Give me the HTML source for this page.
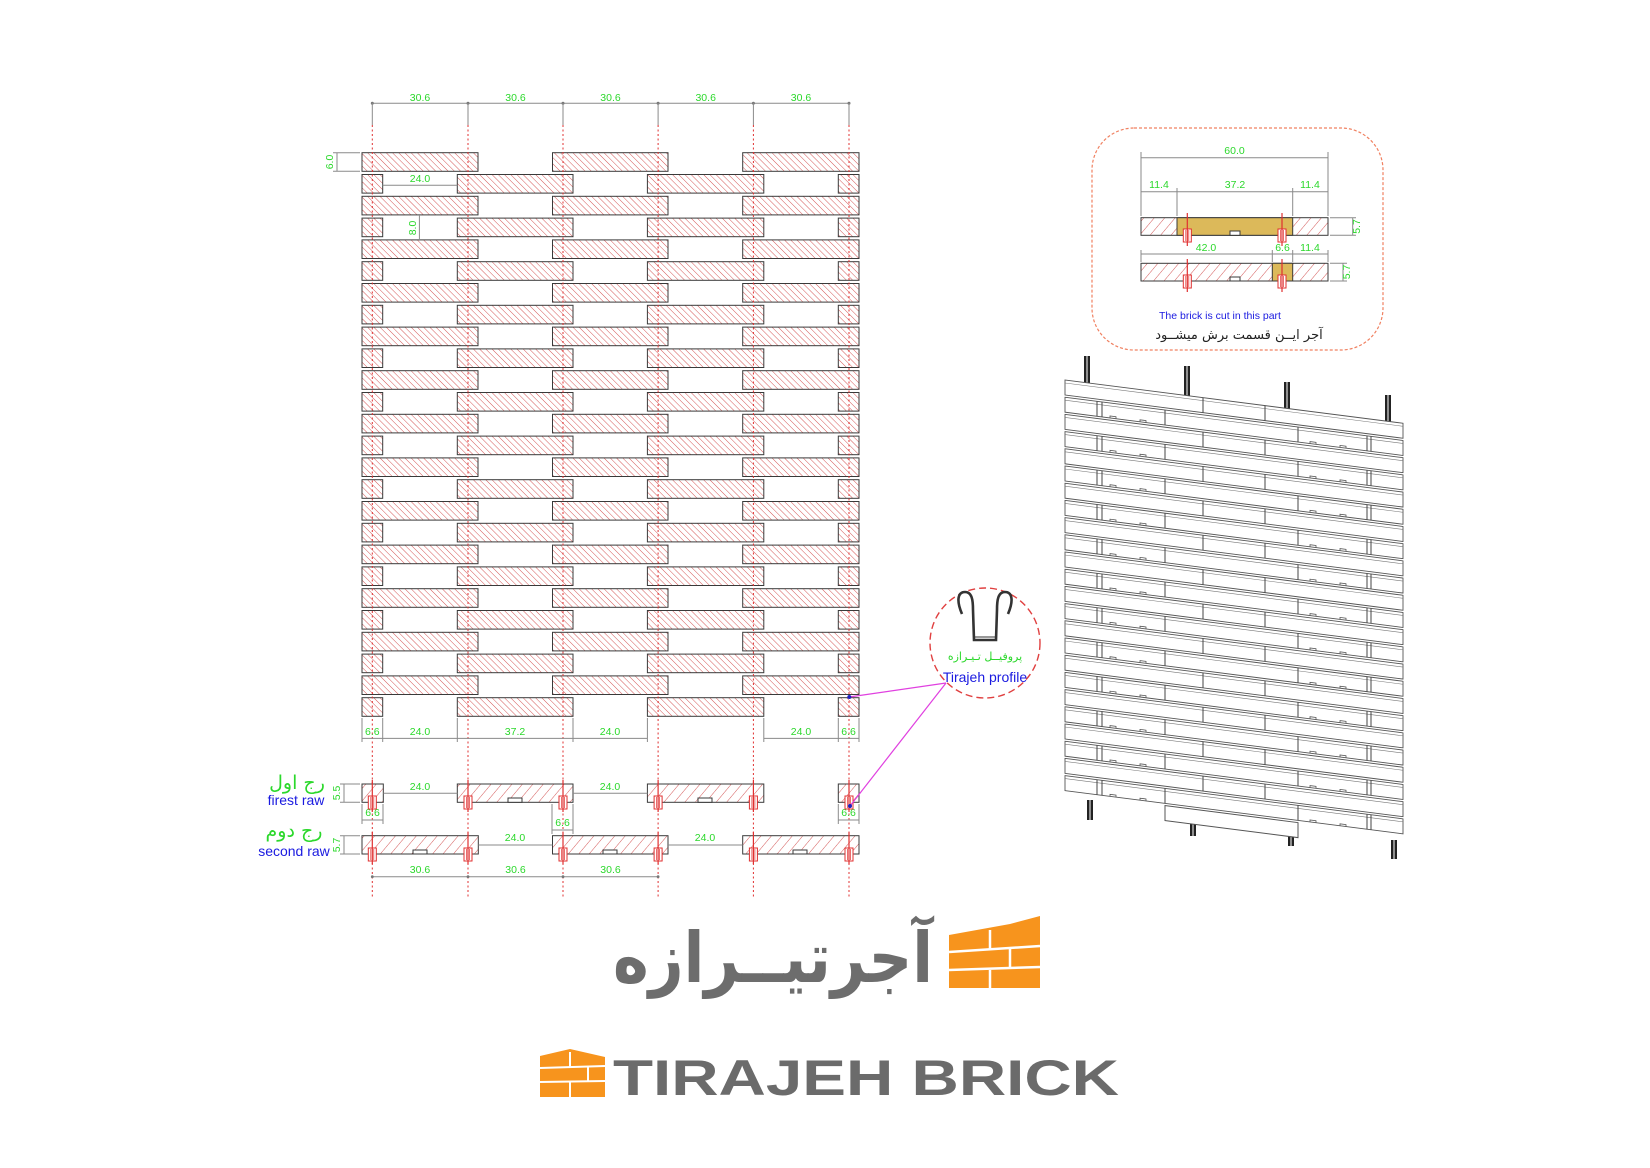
<!DOCTYPE html>
<html><head><meta charset="utf-8"><style>
html,body{margin:0;padding:0;background:#fff;}
svg{display:block;}
.d{font-family:"Liberation Sans",sans-serif;font-size:10.5px;fill:#2bd82b;text-anchor:middle;}
.dl{stroke:#8a8a8a;stroke-width:1;fill:none;}
.rd{stroke:#e03030;stroke-width:1;stroke-dasharray:2,2.5;fill:none;}
.br{stroke:#3a3a3a;stroke-width:1;}
</style></head><body>
<svg width="1650" height="1168" viewBox="0 0 1650 1168" xmlns="http://www.w3.org/2000/svg">
<defs>
<pattern id="h1" width="4.4" height="4.4" patternUnits="userSpaceOnUse" patternTransform="rotate(-45)"><rect width="4.4" height="4.4" fill="#fff"/><line x1="0" y1="0" x2="0" y2="4.4" stroke="#d04545" stroke-width="0.9"/></pattern>
<pattern id="h2" width="8" height="8" patternUnits="userSpaceOnUse" patternTransform="rotate(40)"><rect width="8" height="8" fill="#fff"/><line x1="0" y1="0" x2="0" y2="8" stroke="#d04545" stroke-width="0.9"/></pattern>
<g id="rA">
<rect x="362" y="0" width="116" height="18.6" fill="url(#h1)" class="br"/>
<rect x="552.5" y="0" width="115.5" height="18.6" fill="url(#h1)" class="br"/>
<rect x="742.7" y="0" width="116.3" height="18.6" fill="url(#h1)" class="br"/>
</g>
<g id="rB">
<rect x="362" y="0" width="20.7" height="18.6" fill="url(#h1)" class="br"/>
<rect x="457.3" y="0" width="115.7" height="18.6" fill="url(#h1)" class="br"/>
<rect x="647.4" y="0" width="116.4" height="18.6" fill="url(#h1)" class="br"/>
<rect x="838.3" y="0" width="20.7" height="18.6" fill="url(#h1)" class="br"/>
</g>
<g id="pf">
<rect x="-4" y="-6" width="8" height="13" fill="#fff" stroke="#e03030" stroke-width="1"/>
<line x1="-1.5" y1="-5" x2="-1.5" y2="6" stroke="#e03030" stroke-width="0.7"/>
<line x1="1.5" y1="-5" x2="1.5" y2="6" stroke="#e03030" stroke-width="0.7"/>
</g>
<g id="r3A">
<rect x="0" y="0" width="338" height="15" fill="#fff" stroke="#555" stroke-width="0.9"/>
<line x1="0" y1="3" x2="338" y2="3" stroke="#777" stroke-width="0.6"/>
<line x1="138" y1="0" x2="138" y2="15" stroke="#444" stroke-width="1"/>
<line x1="200" y1="0" x2="200" y2="15" stroke="#444" stroke-width="1"/>
</g>
<g id="r3B">
<rect x="0" y="0" width="338" height="15" fill="#fff" stroke="#555" stroke-width="0.9"/>
<line x1="0" y1="3" x2="338" y2="3" stroke="#777" stroke-width="0.6"/>
<line x1="32" y1="0" x2="32" y2="15" stroke="#444"/><line x1="37" y1="0" x2="37" y2="15" stroke="#444"/>
<line x1="100" y1="0" x2="100" y2="15" stroke="#444"/><line x1="233" y1="0" x2="233" y2="15" stroke="#444"/>
<line x1="302" y1="0" x2="302" y2="15" stroke="#444"/><line x1="306" y1="0" x2="306" y2="15" stroke="#444"/>
<path d="M45,15 l0,-2 h6 v2 M75,15 l0,-2 h6 v2 M245,15 l0,-2 h6 v2 M275,15 l0,-2 h6 v2" stroke="#555" fill="none" stroke-width="0.8"/>
</g>
</defs>

<line x1="372.3" y1="103.3" x2="849" y2="103.3" class="dl"/>
<g fill="#777">
<circle cx="372.3" cy="103.3" r="1.5"/><circle cx="468" cy="103.3" r="1.5"/><circle cx="563" cy="103.3" r="1.5"/><circle cx="658.1" cy="103.3" r="1.5"/><circle cx="753.4" cy="103.3" r="1.5"/><circle cx="849" cy="103.3" r="1.5"/>
</g>
<g class="dl"><line x1="372.3" y1="103" x2="372.3" y2="125"/><line x1="468" y1="103" x2="468" y2="125"/><line x1="563" y1="103" x2="563" y2="125"/><line x1="658.1" y1="103" x2="658.1" y2="125"/><line x1="753.4" y1="103" x2="753.4" y2="125"/><line x1="849" y1="103" x2="849" y2="125"/></g>
<text class="d" x="420" y="101">30.6</text><text class="d" x="515.5" y="101">30.6</text><text class="d" x="610.5" y="101">30.6</text><text class="d" x="705.7" y="101">30.6</text><text class="d" x="801" y="101">30.6</text>

<use href="#rA" y="152.7"/><use href="#rB" y="174.5"/>
<use href="#rA" y="196.3"/><use href="#rB" y="218.1"/>
<use href="#rA" y="239.9"/><use href="#rB" y="261.7"/>
<use href="#rA" y="283.5"/><use href="#rB" y="305.3"/>
<use href="#rA" y="327.1"/><use href="#rB" y="348.9"/>
<use href="#rA" y="370.7"/><use href="#rB" y="392.5"/>
<use href="#rA" y="414.3"/><use href="#rB" y="436.1"/>
<use href="#rA" y="457.9"/><use href="#rB" y="479.7"/>
<use href="#rA" y="501.5"/><use href="#rB" y="523.3"/>
<use href="#rA" y="545.1"/><use href="#rB" y="566.9"/>
<use href="#rA" y="588.7"/><use href="#rB" y="610.5"/>
<use href="#rA" y="632.3"/><use href="#rB" y="654.1"/>
<use href="#rA" y="675.9"/><use href="#rB" y="697.7"/>

<g class="rd"><line x1="372.3" y1="125" x2="372.3" y2="898"/><line x1="468" y1="125" x2="468" y2="898"/><line x1="563" y1="125" x2="563" y2="898"/><line x1="658.1" y1="125" x2="658.1" y2="898"/><line x1="753.4" y1="125" x2="753.4" y2="898"/><line x1="849" y1="125" x2="849" y2="898"/></g>

<line x1="337" y1="152.7" x2="337" y2="171.3" class="dl"/><line x1="333" y1="152.7" x2="360" y2="152.7" class="dl"/><line x1="333" y1="171.3" x2="360" y2="171.3" class="dl"/>
<text class="d" transform="translate(333,162) rotate(-90)" y="0">6.0</text>
<line x1="382.7" y1="185.3" x2="457.3" y2="185.3" class="dl"/><text class="d" x="420" y="182">24.0</text>
<line x1="419.4" y1="215" x2="419.4" y2="240" class="dl"/><text class="d" transform="translate(416,228) rotate(-90)">8.0</text>

<g class="dl"><line x1="362" y1="738.4" x2="647.4" y2="738.4"/><line x1="763.8" y1="738.4" x2="859" y2="738.4"/>
<line x1="362" y1="718" x2="362" y2="742"/><line x1="382.7" y1="718" x2="382.7" y2="742"/><line x1="457.3" y1="718" x2="457.3" y2="742"/><line x1="573" y1="718" x2="573" y2="742"/><line x1="647.4" y1="718" x2="647.4" y2="742"/><line x1="763.8" y1="718" x2="763.8" y2="742"/><line x1="838.3" y1="718" x2="838.3" y2="742"/><line x1="859" y1="718" x2="859" y2="742"/></g>
<text class="d" x="372.3" y="735">6.6</text><text class="d" x="420" y="735">24.0</text><text class="d" x="515" y="735">37.2</text><text class="d" x="610" y="735">24.0</text><text class="d" x="801" y="735">24.0</text><text class="d" x="848.6" y="735">6.6</text>

<g>
<rect x="362" y="784" width="21.3" height="18.3" fill="url(#h2)" class="br"/>
<rect x="457.3" y="784" width="115.7" height="18.3" fill="url(#h2)" class="br"/>
<rect x="647.4" y="784" width="116.4" height="18.3" fill="url(#h2)" class="br"/>
<rect x="838.3" y="784" width="20.7" height="18.3" fill="url(#h2)" class="br"/>
<g fill="#fff" stroke="#3a3a3a" stroke-width="1"><rect x="508" y="798" width="14" height="4.3"/><rect x="698" y="798" width="14" height="4.3"/></g>
</g>
<g class="dl"><line x1="383.3" y1="793.3" x2="457.3" y2="793.3"/><line x1="573" y1="793.3" x2="647.4" y2="793.3"/></g>
<text class="d" x="420" y="790">24.0</text><text class="d" x="610" y="790">24.0</text>
<g class="dl"><line x1="344" y1="784" x2="344" y2="802.3"/><line x1="340" y1="784" x2="360" y2="784"/><line x1="340" y1="802.3" x2="360" y2="802.3"/></g>
<text class="d" transform="translate(340,793) rotate(-90)">5.5</text>
<g class="dl"><line x1="362" y1="820" x2="383" y2="820"/><line x1="362" y1="804" x2="362" y2="824"/><line x1="383" y1="804" x2="383" y2="824"/>
<line x1="838.3" y1="820" x2="859" y2="820"/><line x1="838.3" y1="804" x2="838.3" y2="824"/><line x1="859" y1="804" x2="859" y2="824"/>
<line x1="552" y1="830" x2="573" y2="830"/><line x1="552" y1="804" x2="552" y2="834"/><line x1="573" y1="804" x2="573" y2="834"/></g>
<text class="d" x="372.5" y="816">6.6</text><text class="d" x="848.6" y="816">6.6</text><text class="d" x="562.5" y="826">6.6</text>

<rect x="362" y="835.7" width="116.3" height="18.3" fill="url(#h2)" class="br"/>
<rect x="552.5" y="835.7" width="115.5" height="18.3" fill="url(#h2)" class="br"/>
<rect x="742.7" y="835.7" width="116.3" height="18.3" fill="url(#h2)" class="br"/>
<g fill="#fff" stroke="#3a3a3a" stroke-width="1"><rect x="413" y="850" width="14" height="4"/><rect x="603" y="850" width="14" height="4"/><rect x="793" y="850" width="14" height="4"/></g>
<g class="dl"><line x1="478.3" y1="845" x2="552.5" y2="845"/><line x1="668" y1="845" x2="742.7" y2="845"/></g>
<text class="d" x="515" y="841">24.0</text><text class="d" x="705" y="841">24.0</text>
<g class="dl"><line x1="344" y1="835.7" x2="344" y2="854"/><line x1="340" y1="835.7" x2="360" y2="835.7"/><line x1="340" y1="854" x2="360" y2="854"/></g>
<text class="d" transform="translate(340,845) rotate(-90)">5.7</text>
<g class="dl"><line x1="372.3" y1="876.7" x2="658.1" y2="876.7"/></g>
<g fill="#777"><circle cx="372.3" cy="876.7" r="1.4"/><circle cx="468" cy="876.7" r="1.4"/><circle cx="563" cy="876.7" r="1.4"/><circle cx="658.1" cy="876.7" r="1.4"/></g>
<text class="d" x="420" y="873">30.6</text><text class="d" x="515.5" y="873">30.6</text><text class="d" x="610.5" y="873">30.6</text>

<g>
<use href="#pf" x="372.3" y="802"/><use href="#pf" x="468" y="802"/><use href="#pf" x="563" y="802"/><use href="#pf" x="658.1" y="802"/><use href="#pf" x="753.4" y="802"/><use href="#pf" x="849" y="802"/>
<use href="#pf" x="372.3" y="854"/><use href="#pf" x="468" y="854"/><use href="#pf" x="563" y="854"/><use href="#pf" x="658.1" y="854"/><use href="#pf" x="753.4" y="854"/><use href="#pf" x="849" y="854"/>
</g>
<g stroke="#e03030" stroke-width="1.2"><line x1="372.3" y1="780" x2="372.3" y2="812"/><line x1="468" y1="780" x2="468" y2="812"/><line x1="563" y1="780" x2="563" y2="812"/><line x1="658.1" y1="780" x2="658.1" y2="812"/><line x1="753.4" y1="780" x2="753.4" y2="812"/><line x1="849" y1="780" x2="849" y2="812"/>
<line x1="372.3" y1="832" x2="372.3" y2="864"/><line x1="468" y1="832" x2="468" y2="864"/><line x1="563" y1="832" x2="563" y2="864"/><line x1="658.1" y1="832" x2="658.1" y2="864"/><line x1="753.4" y1="832" x2="753.4" y2="864"/><line x1="849" y1="832" x2="849" y2="864"/></g>

<text x="297" y="789" font-family="'DejaVu Sans',sans-serif" font-size="19" fill="#2bd82b" text-anchor="middle" direction="rtl">رج اول</text>
<text x="296" y="805" font-family="'Liberation Sans',sans-serif" font-size="14" fill="#1a1ae0" text-anchor="middle">firest raw</text>
<text x="294" y="837" font-family="'DejaVu Sans',sans-serif" font-size="19" fill="#2bd82b" text-anchor="middle" direction="rtl">رج دوم</text>
<text x="294" y="856" font-family="'Liberation Sans',sans-serif" font-size="14" fill="#1a1ae0" text-anchor="middle">second raw</text>

<g stroke="#e040e0" stroke-width="1.2"><line x1="946" y1="683" x2="849.3" y2="697"/><line x1="946" y1="683" x2="850" y2="806"/></g>
<g fill="#2020c0"><circle cx="849.3" cy="697" r="2"/><circle cx="850" cy="806" r="2"/></g>

<circle cx="985" cy="643" r="55" fill="none" stroke="#e04040" stroke-width="1.4" stroke-dasharray="7,4"/>
<path d="M962,614 C956,600 958,592 965,592 C972,592 973,600 973,610 L974,640 L996,640 L997,610 C997,600 998,592 1005,592 C1012,592 1014,600 1008,614" fill="none" stroke="#333" stroke-width="2.6"/>
<line x1="974" y1="637" x2="996" y2="637" stroke="#333" stroke-width="1"/>
<text x="985" y="660" font-family="'DejaVu Sans',sans-serif" font-size="11" fill="#2bd82b" text-anchor="middle" direction="rtl">پروفیــل تـیـرازه</text>
<text x="985" y="682" font-family="'Liberation Sans',sans-serif" font-size="14" fill="#1a1ae0" text-anchor="middle">Tirajeh profile</text>

<rect x="1092" y="128" width="291" height="222" rx="42" fill="none" stroke="#f08060" stroke-width="1.2" stroke-dasharray="3,2"/>
<g class="dl"><line x1="1141" y1="157.7" x2="1328" y2="157.7"/><line x1="1141" y1="191.7" x2="1328" y2="191.7"/>
<line x1="1141" y1="152" x2="1141" y2="216"/><line x1="1328" y1="152" x2="1328" y2="216"/><line x1="1177" y1="188" x2="1177" y2="216"/><line x1="1292.7" y1="188" x2="1292.7" y2="216"/>
<line x1="1141" y1="254" x2="1328" y2="254"/><line x1="1141" y1="250" x2="1141" y2="262"/><line x1="1272.3" y1="250" x2="1272.3" y2="262"/><line x1="1292.7" y1="250" x2="1292.7" y2="262"/><line x1="1328" y1="250" x2="1328" y2="262"/>
<line x1="1352.7" y1="217.7" x2="1352.7" y2="235.3"/><line x1="1330" y1="217.7" x2="1356" y2="217.7"/><line x1="1330" y1="235.3" x2="1356" y2="235.3"/>
<line x1="1343" y1="263.3" x2="1343" y2="281"/><line x1="1330" y1="263.3" x2="1347" y2="263.3"/><line x1="1330" y1="281" x2="1347" y2="281"/></g>
<text class="d" x="1234.5" y="154">60.0</text>
<text class="d" x="1159" y="188">11.4</text><text class="d" x="1235" y="188">37.2</text><text class="d" x="1310" y="188">11.4</text>
<text class="d" x="1206" y="251">42.0</text><text class="d" x="1282.5" y="251">6.6</text><text class="d" x="1310" y="251">11.4</text>
<text class="d" transform="translate(1360,226.5) rotate(-90)" y="0">5.7</text>
<text class="d" transform="translate(1350,272) rotate(-90)" y="0">5.7</text>
<rect x="1141" y="217.7" width="187" height="17.6" fill="url(#h2)" class="br"/>
<rect x="1177" y="217.7" width="115.7" height="17.6" fill="#dcb95a" class="br"/>
<rect x="1141" y="263.3" width="187" height="17.7" fill="url(#h2)" class="br"/>
<rect x="1272.3" y="263.3" width="20.4" height="17.7" fill="#dcb95a" class="br"/>
<g fill="#fff" stroke="#3a3a3a"><rect x="1230" y="231" width="10" height="4.3"/><rect x="1230" y="277" width="10" height="4"/></g>
<use href="#pf" x="1187.3" y="235"/><use href="#pf" x="1282" y="235"/><use href="#pf" x="1187.3" y="281"/><use href="#pf" x="1282" y="281"/>
<g stroke="#e03030" stroke-width="1.2"><line x1="1187.3" y1="213" x2="1187.3" y2="246"/><line x1="1282" y1="213" x2="1282" y2="246"/><line x1="1187.3" y1="259" x2="1187.3" y2="292"/><line x1="1282" y1="259" x2="1282" y2="292"/></g>
<text x="1220" y="319" font-family="'Liberation Sans',sans-serif" font-size="10.5" fill="#1a1ae0" text-anchor="middle">The brick is cut in this part</text>
<text x="1239" y="339" font-family="'DejaVu Sans',sans-serif" font-size="13" fill="#222" text-anchor="middle" direction="rtl">آجر ایــن قسمت برش  میشــود</text>

<g fill="#222">
<rect x="1084" y="356" width="6" height="30"/><rect x="1184" y="366" width="6" height="32"/><rect x="1284" y="382" width="6" height="30"/><rect x="1385" y="395" width="6" height="30"/>
<rect x="1087" y="800" width="6" height="20"/><rect x="1190" y="815" width="6" height="21"/><rect x="1288" y="828" width="6" height="18"/><rect x="1391" y="840" width="6" height="19"/>
</g>
<g stroke="#fff" stroke-width="1"><line x1="1087" y1="356" x2="1087" y2="386"/><line x1="1187" y1="366" x2="1187" y2="398"/><line x1="1287" y1="382" x2="1287" y2="412"/><line x1="1388" y1="395" x2="1388" y2="425"/>
<line x1="1090" y1="800" x2="1090" y2="820"/><line x1="1193" y1="815" x2="1193" y2="836"/><line x1="1291" y1="828" x2="1291" y2="846"/><line x1="1394" y1="840" x2="1394" y2="859"/></g>
<g transform="matrix(1,0.128,0,1,1065,380)">
<use href="#r3A" y="0"/><use href="#r3B" y="17.2"/><use href="#r3A" y="34.4"/><use href="#r3B" y="51.6"/>
<use href="#r3A" y="68.8"/><use href="#r3B" y="86"/><use href="#r3A" y="103.2"/><use href="#r3B" y="120.4"/>
<use href="#r3A" y="137.6"/><use href="#r3B" y="154.8"/><use href="#r3A" y="172"/><use href="#r3B" y="189.2"/>
<use href="#r3A" y="206.4"/><use href="#r3B" y="223.6"/><use href="#r3A" y="240.8"/><use href="#r3B" y="258"/>
<use href="#r3A" y="275.2"/><use href="#r3B" y="292.4"/><use href="#r3A" y="309.6"/><use href="#r3B" y="326.8"/>
<use href="#r3A" y="344"/><use href="#r3B" y="361.2"/><use href="#r3A" y="378.4"/><use href="#r3B" y="395.6"/>
<rect x="100" y="412.8" width="133" height="15" fill="#fff" stroke="#555"/>
</g>

<polygon points="949,935 1010,924 1040,916 1040,988 949,988" fill="#f7941d"/>
<g stroke="#fff" stroke-width="2.5"><line x1="949" y1="952" x2="1040" y2="946"/><line x1="949" y1="970" x2="1040" y2="967"/>
<line x1="990" y1="930" x2="990" y2="950"/><line x1="1010" y1="948" x2="1010" y2="968"/><line x1="990" y1="970" x2="990" y2="988"/></g>
<text x="773" y="982" font-family="'DejaVu Sans',sans-serif" font-weight="bold" font-size="70" fill="#6d6d6d" text-anchor="middle" direction="rtl" textLength="320" lengthAdjust="spacingAndGlyphs">آجرتیــرازه</text>
<polygon points="540,1056 570,1049 605,1057 605,1097 540,1097" fill="#f7941d"/>
<g stroke="#fff" stroke-width="2"><line x1="540" y1="1068" x2="605" y2="1066"/><line x1="540" y1="1082" x2="605" y2="1081"/>
<line x1="570" y1="1052" x2="570" y2="1067"/><line x1="588" y1="1067" x2="588" y2="1081"/><line x1="570" y1="1082" x2="570" y2="1097"/></g>
<text x="613" y="1095" font-family="'Liberation Sans',sans-serif" font-weight="bold" font-size="50" fill="#6b6b6b" textLength="506" lengthAdjust="spacingAndGlyphs">TIRAJEH BRICK</text>
</svg>
</body></html>
